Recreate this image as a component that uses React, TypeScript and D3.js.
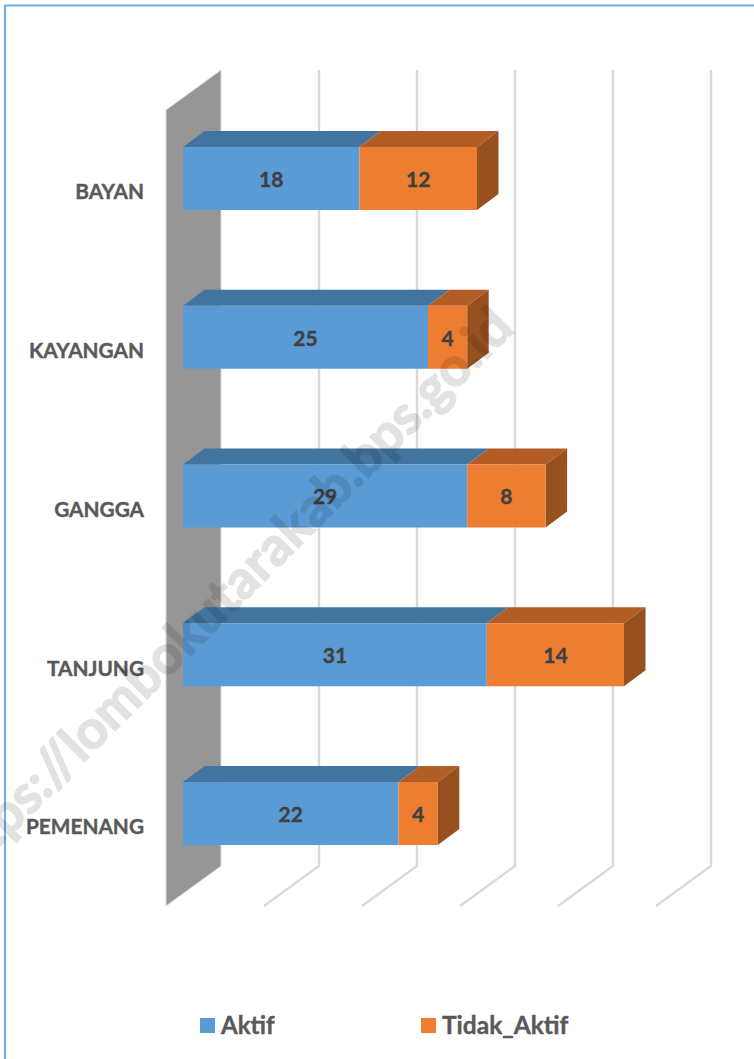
import React from "react";
import * as d3 from "d3";

const categories = ["BAYAN", "KAYANGAN", "GANGGA", "TANJUNG", "PEMENANG"];
const aktif = [18, 25, 29, 31, 22];
const tidakAktif = [12, 4, 8, 14, 4];
const ticks = [0, 10, 20, 30, 40, 50];
const seriesNames = ["Aktif", "Tidak_Aktif"];
const watermark = "https://lombokutarakab.bps.go.id";

const W = 754, H = 1059;
const FONT = "Lato, Carlito, 'Open Sans', sans-serif";
const TEXT = "#595959";
const LABEL = "#404040";
const BLUE = { front: "#5b9bd5", top: "#4274a0", side: "#3a6690" };
const ORANGE = { front: "#ed7d31", top: "#b25d25", side: "#97511f" };

// front-plane scales
const x = d3.scaleLinear().domain([0, 50]).range([166, 656]);
const barX = d3.scaleLinear().domain([0, 50]).range([183, 673]);
const y = d3.scaleBand().domain(categories).range([99.1, 892.9]);
const DX = 55, DY = -40;
const barDX = 21.5, barDY = -16;
const wallTop = 110, wallBottom = 906;
const barH = 63;

function quad(pts: [number, number][]) {
  return d3.line()(pts)! + "Z";
}

export default function App() {
  return (
    <svg width={W} height={H} style={{ position: "absolute", left: 0, top: 0, display: "block", background: "#fff" }}>
      <path d={`M5,${H}V5.5H${W}`} fill="none" stroke="#73ade3" strokeWidth={2} />
      {/* gridlines */}
      {ticks.slice(1).map((t) => (
        <path key={t}
          d={d3.line()([[x(t), wallBottom], [x(t) + DX, wallBottom + DY], [x(t) + DX, wallTop + DY]])!}
          fill="none" stroke="#d9d9d9" strokeWidth={2.4} />
      ))}
      {/* side wall */}
      <path d={quad([[x(0), wallTop], [x(0) + DX, wallTop + DY], [x(0) + DX, wallBottom + DY], [x(0), wallBottom]])} fill="#969696" stroke="#d9d9d9" strokeWidth={1} />
      {/* bars */}
      {categories.map((c, i) => {
        const y0 = y(c)! + (y.bandwidth() - barH) / 2;
        const y1 = y0 + barH;
        const segs = [
          { a: 0, b: aktif[i], col: BLUE, v: aktif[i] },
          { a: aktif[i], b: aktif[i] + tidakAktif[i], col: ORANGE, v: tidakAktif[i] },
        ];
        return (
          <g key={c}>
            {segs.map((s, k) => {
              const xa = barX(s.a), xb = barX(s.b);
              return (
                <g key={k}>
                  <path d={quad([[xa, y0], [xa + barDX, y0 + barDY], [xb + barDX, y0 + barDY], [xb, y0]])} fill={s.col.top} />
                  {k === 1 && <path d={quad([[xb, y0], [xb + barDX, y0 + barDY], [xb + barDX, y1 + barDY], [xb, y1]])} fill={s.col.side} />}
                  <rect x={xa} y={y0} width={xb - xa} height={barH} fill={s.col.front} />
                  <text x={(xa + xb) / 2} y={y0 + barH / 2 + 3} textAnchor="middle" dominantBaseline="middle"
                    fontFamily={FONT} fontWeight={700} fontSize={21} fill={LABEL} stroke={LABEL} strokeWidth={0.4}>{s.v}</text>
                </g>
              );
            })}
            <text x={144} y={y0 + barH / 2 + 15.5} textAnchor="end" dominantBaseline="middle"
              fontFamily={FONT} fontWeight={700} fontSize={20.8} fill={TEXT} stroke={TEXT} strokeWidth={0.4}>{c}</text>
          </g>
        );
      })}
      {/* legend */}
      <rect x={200} y={1018} width={15} height={15} fill={BLUE.front} />
      <text x={221} y={1034} fontFamily={FONT} fontWeight={700} fontSize={24} fill={TEXT} stroke={TEXT} strokeWidth={0.4}>{seriesNames[0]}</text>
      <rect x={421} y={1018} width={15} height={15} fill={ORANGE.front} />
      <text x={442} y={1034} fontFamily={FONT} fontWeight={700} fontSize={24.5} fill={TEXT} stroke={TEXT} strokeWidth={0.4}>{seriesNames[1]}</text>
      {/* watermark */}
      <text transform="translate(-40,886) rotate(-45)" fontFamily={FONT} fontWeight={700} fontSize={53.5}
        fill="#000" stroke="#000" strokeWidth={1.6} opacity={0.11}>{watermark}</text>
    </svg>
  );
}
